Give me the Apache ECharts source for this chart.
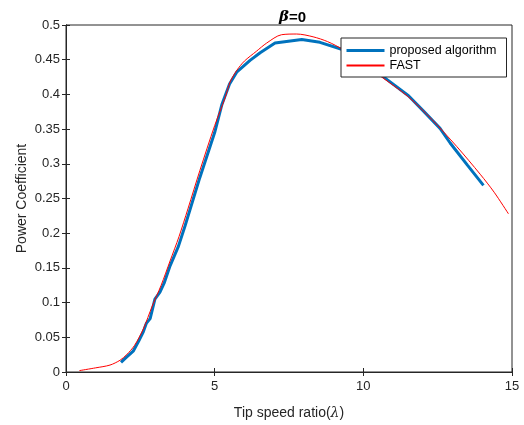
<!DOCTYPE html>
<html>
<head>
<meta charset="utf-8">
<script src="https://cdn.jsdelivr.net/npm/echarts@6/dist/echarts.min.js"></script>
<style>html,body{margin:0;padding:0;background:#fff}#main{width:524px;height:425px}</style>
</head>
<body>
<div id="main"></div>
<script>
var myChart = echarts.init(document.getElementById('main'));

// proposed algorithm: [tip speed ratio, Cp]
var proposedX = [1.85, 2.0, 2.26, 2.45, 2.6, 2.7, 2.83, 2.99, 3.16, 3.3, 3.5, 3.78, 4.0, 4.5, 5.0, 5.24, 5.5, 5.74, 6.19, 6.53, 7.03, 7.93, 8.54, 9.27, 10.0, 10.62, 11.52, 12.0, 12.58, 12.92, 13.5, 14.04];
var proposedY = [0.014, 0.02, 0.03, 0.045, 0.058, 0.07, 0.077, 0.105, 0.115, 0.128, 0.153, 0.181, 0.21, 0.28, 0.345, 0.385, 0.415, 0.432, 0.449, 0.46, 0.474, 0.479, 0.475, 0.465, 0.447, 0.427, 0.398, 0.377, 0.351, 0.33, 0.298, 0.269];
// FAST
var fastX = [0.45, 1.0, 1.48, 1.82, 2.04, 2.3, 2.6, 2.9, 3.2, 3.5, 3.8, 4.1, 4.5, 5.0, 5.35, 5.52, 5.75, 6.0, 6.4, 6.75, 7.25, 7.76, 8.31, 8.8, 9.3, 10.0, 10.62, 11.5, 12.3, 13.14, 13.93, 14.4, 14.88];
var fastY = [0.002, 0.006, 0.010, 0.017, 0.025, 0.038, 0.062, 0.095, 0.125, 0.16, 0.195, 0.235, 0.29, 0.355, 0.395, 0.418, 0.435, 0.448, 0.462, 0.474, 0.486, 0.487, 0.483, 0.476, 0.465, 0.445, 0.425, 0.397, 0.364, 0.325, 0.285, 0.259, 0.228];

function pairs(xs, ys) {
    return xs.map(function (x, i) { return [x, ys[i]]; });
}

var font = 'Liberation Sans, Arial, sans-serif';
var tick = { show: true, inside: true, length: 4, lineStyle: { color: '#262626' } };

option = {
    animation: false,
    textStyle: { fontFamily: font },
    title: {
        text: '{b|β}{n|=0}',
        left: 274,
        top: 5,
        textStyle: {
            rich: {
                b: { fontStyle: 'italic', fontSize: 15, fontFamily: 'DejaVu Serif', color: '#000' },
                n: { fontWeight: 'bold', fontSize: 15, fontFamily: font, color: '#000' }
            }
        }
    },
    legend: {
        orient: 'vertical',
        left: 341,
        top: 38,
        padding: [6, 10, 5, 4],
        itemWidth: 38,
        itemHeight: 13,
        itemGap: 2,
        backgroundColor: '#fff',
        borderColor: '#262626',
        borderWidth: 1,
        itemStyle: { opacity: 0 },
        textStyle: { fontSize: 12.5, color: '#000', fontFamily: font },
        data: [
            { name: 'proposed algorithm', lineStyle: { width: 3, color: '#0072BD' } },
            'FAST'
        ]
    },
    grid: {
        left: 66,
        right: 12,
        top: 25,
        bottom: 47,
        show: true,
        borderColor: '#262626',
        borderWidth: 1
    },
    xAxis: [
        {
            type: 'value',
            min: 0, max: 15, interval: 5,
            name: 'Tip speed ratio({l|λ})',
            nameLocation: 'middle',
            nameGap: 34,
            nameTextStyle: { fontSize: 14, color: '#262626', rich: { l: { fontStyle: 'italic', fontSize: 14, fontFamily: 'DejaVu Serif', color: '#262626' } } },
            axisLine: { show: true, lineStyle: { color: '#262626' } },
            axisTick: tick,
            axisLabel: { fontSize: 13, color: '#262626', margin: 8 },
            splitLine: { show: false }
        },
        {
            type: 'value', position: 'top',
            min: 0, max: 15, interval: 5,
            axisLine: { show: true, lineStyle: { color: '#262626' } },
            axisTick: tick,
            axisLabel: { show: false },
            splitLine: { show: false }
        }
    ],
    yAxis: [
        {
            type: 'value',
            min: 0, max: 0.5, interval: 0.05,
            name: 'Power Coefficient',
            nameLocation: 'middle',
            nameGap: 37,
            nameMoveOverlap: false,
            nameTextStyle: { fontSize: 14, color: '#262626' },
            axisLine: { show: true, lineStyle: { color: '#262626' } },
            axisTick: tick,
            axisLabel: {
                fontSize: 13, color: '#262626', margin: 6,
                formatter: function (v) { return String(+v.toFixed(2)); }
            },
            splitLine: { show: false }
        },
        {
            type: 'value', position: 'right',
            min: 0, max: 0.5, interval: 0.05,
            axisLine: { show: true, lineStyle: { color: '#262626' } },
            axisTick: tick,
            axisLabel: { show: false },
            splitLine: { show: false }
        }
    ],
    series: [
        {
            name: 'proposed algorithm',
            type: 'line',
            symbol: 'none',
            color: '#0072BD',
            lineStyle: { width: 3, color: '#0072BD' },
            data: pairs(proposedX, proposedY),
            z: 2
        },
        {
            name: 'FAST',
            type: 'line',
            symbol: 'none',
            smooth: 0.3,
            color: '#FF0000',
            lineStyle: { width: 1, color: '#FF0000' },
            data: pairs(fastX, fastY),
            z: 3
        }
    ]
};
myChart.setOption(option);
</script>
</body>
</html>
